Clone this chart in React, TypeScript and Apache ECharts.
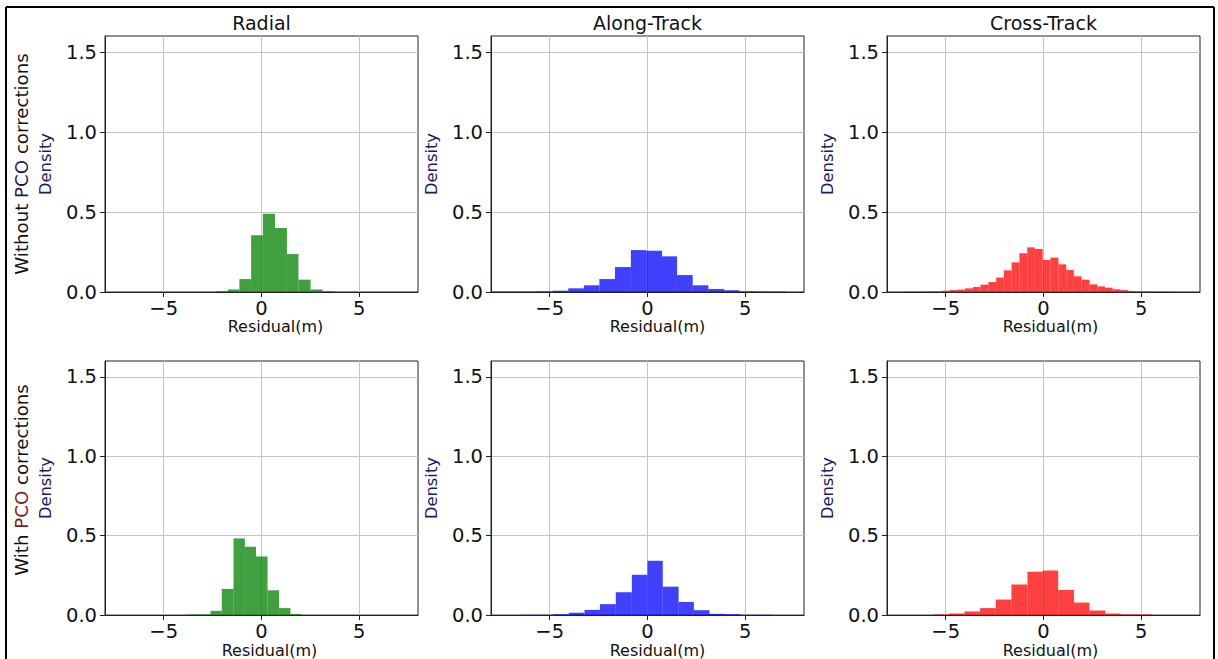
import React, { useEffect, useRef } from 'react';
import * as echarts from 'echarts';

// ---- labels / ticks ----
const columnTitles = ['Radial', 'Along-Track', 'Cross-Track'];
const rowLabelsPrefix = ['Without', 'With'];
const xTicks = [-5, 0, 5];
const yTicks = [0, 0.5, 1.0, 1.5];
const xRange = [-8, 8];
const yRange = [0, 1.6];
const xLabel = 'Residual(m)';
const yLabel = 'Density';

// ---- histogram data (bin edges and densities) ----
// Row 1: without PCO corrections
const radialWithoutEdges = [-2.32, -1.72, -1.13, -0.53, 0.07, 0.69, 1.3, 1.89, 2.51, 3.12, 3.73];
const radialWithoutDensity = [0.005, 0.016, 0.081, 0.354, 0.489, 0.4, 0.237, 0.077, 0.016, 0.005];

const alongWithoutEdges = [-8.05, -7.25, -6.45, -5.65, -4.85, -4.05, -3.25, -2.46, -1.66, -0.85, -0.07, 0.74, 1.51, 2.31, 3.11, 3.92, 4.7, 5.5, 6.3, 7.1];
const alongWithoutDensity = [0.002, 0.002, 0.002, 0.004, 0.008, 0.023, 0.042, 0.081, 0.156, 0.262, 0.258, 0.223, 0.106, 0.042, 0.019, 0.011, 0.004, 0.003, 0.002];

const crossWithoutEdges = [-7.18, -6.78, -6.38, -5.98, -5.58, -5.19, -4.8, -4.41, -4.01, -3.61, -3.22, -2.82, -2.42, -2.03, -1.63, -1.23, -0.83, -0.44, -0.04, 0.36, 0.76, 1.16, 1.55, 1.95, 2.35, 2.75, 3.14, 3.54, 3.94, 4.34, 4.74, 5.13, 5.53, 5.93, 6.33, 6.73];
const crossWithoutDensity = [0.002, 0.002, 0.002, 0.003, 0.004, 0.008, 0.012, 0.015, 0.023, 0.031, 0.046, 0.062, 0.09, 0.135, 0.185, 0.242, 0.279, 0.269, 0.2, 0.215, 0.173, 0.137, 0.098, 0.077, 0.048, 0.035, 0.027, 0.017, 0.012, 0.006, 0.004, 0.003, 0.002, 0.002, 0.002];

// Row 2: with PCO corrections
const radialWithEdges = [-3.76, -3.18, -2.61, -2.03, -1.43, -0.85, -0.28, 0.31, 0.9, 1.48, 2.06];
const radialWithDensity = [0.004, 0.004, 0.027, 0.165, 0.483, 0.431, 0.369, 0.156, 0.044, 0.006];

const alongWithEdges = [-6.43, -5.63, -4.83, -4.03, -3.22, -2.43, -1.62, -0.8, 0.0, 0.78, 1.59, 2.37, 3.17, 3.97, 4.76, 5.56, 6.36];
const alongWithDensity = [0.002, 0.002, 0.006, 0.015, 0.033, 0.069, 0.144, 0.254, 0.342, 0.179, 0.083, 0.031, 0.008, 0.006, 0.002, 0.002];

const crossWithEdges = [-5.63, -4.83, -4.04, -3.24, -2.44, -1.64, -0.82, -0.03, 0.75, 1.56, 2.35, 3.16, 3.94, 4.74, 5.55];
const crossWithDensity = [0.004, 0.01, 0.023, 0.044, 0.098, 0.192, 0.273, 0.281, 0.158, 0.079, 0.029, 0.01, 0.004, 0.004];

const panelColors = ['rgba(0,128,0,0.75)', 'rgba(0,0,255,0.75)', 'rgba(255,0,0,0.75)'];

const panels = [
  { edges: radialWithoutEdges, density: radialWithoutDensity, row: 0, col: 0 },
  { edges: alongWithoutEdges, density: alongWithoutDensity, row: 0, col: 1 },
  { edges: crossWithoutEdges, density: crossWithoutDensity, row: 0, col: 2 },
  { edges: radialWithEdges, density: radialWithDensity, row: 1, col: 0 },
  { edges: alongWithEdges, density: alongWithDensity, row: 1, col: 1 },
  { edges: crossWithEdges, density: crossWithDensity, row: 1, col: 2 },
];

// ---- layout ----
const FONT = 'DejaVu Sans';
const colLefts = [105, 491, 887];
const colWidth = 313;
const rowTops = [36, 361];
const rowHeight = 256;
// horizontal shift of the x-axis name (left padding) per panel
const xNameShift = [[28, 20, 14], [16, 20, 14]];

function buildOption(): echarts.EChartsOption {
  const grid: any[] = [];
  const xAxis: any[] = [];
  const yAxis: any[] = [];
  const series: any[] = [];

  panels.forEach((p, i) => {
    grid.push({
      left: colLefts[p.col],
      top: rowTops[p.row],
      width: colWidth,
      height: rowHeight,
      show: true,
      borderColor: '#222',
      borderWidth: 1,
      backgroundColor: 'transparent',
      containLabel: false,
    });
    xAxis.push({
      type: 'value',
      gridIndex: i,
      min: xRange[0],
      max: xRange[1],
      name: xLabel,
      nameLocation: 'middle',
      nameGap: 25,
      nameTextStyle: {
        fontFamily: FONT,
        fontSize: 16,
        color: '#111',
        padding: [0, 0, 0, xNameShift[p.row][p.col]],
      },
      axisLine: { show: true, onZero: false, lineStyle: { color: '#222', width: 1 } },
      axisTick: { show: true, length: 5, lineStyle: { color: '#222' }, customValues: xTicks },
      axisLabel: {
        show: true,
        margin: 6,
        fontFamily: FONT,
        fontSize: 19.5,
        color: '#111',
        customValues: xTicks,
        formatter: (v: number) => (v < 0 ? '\u2212' + Math.abs(v) : String(v)),
      },
      splitLine: { show: true, lineStyle: { color: '#c4c4c4', width: 1 } },
    });
    yAxis.push({
      type: 'value',
      gridIndex: i,
      min: yRange[0],
      max: yRange[1],
      name: yLabel,
      nameLocation: 'middle',
      nameRotate: 90,
      nameGap: 52,
      nameTextStyle: { fontFamily: FONT, fontSize: 16.3, color: '#1c1c5c' },
      axisLine: { show: true, onZero: false, lineStyle: { color: '#222', width: 1 } },
      axisTick: { show: true, length: 5, lineStyle: { color: '#222' }, customValues: yTicks },
      axisLabel: {
        show: true,
        margin: 8,
        fontFamily: FONT,
        fontSize: 19.5,
        color: '#111',
        customValues: yTicks,
        formatter: (v: number) => v.toFixed(1),
      },
      splitLine: { show: true, lineStyle: { color: '#c4c4c4', width: 1 } },
    });
    const data = p.density.map((d, k) => [p.edges[k], p.edges[k + 1], d]);
    const color = panelColors[p.col];
    series.push({
      type: 'custom',
      xAxisIndex: i,
      yAxisIndex: i,
      encode: { x: [0, 1], y: 2 },
      data,
      clip: true,
      renderItem: (params: any, api: any) => {
        const x0 = api.value(0);
        const x1 = api.value(1);
        const h = api.value(2);
        const pTop = api.coord([x0, h]);
        const pBot = api.coord([x1, 0]);
        return {
          type: 'rect',
          shape: { x: pTop[0], y: pTop[1], width: pBot[0] - pTop[0], height: pBot[1] - pTop[1] },
          style: { fill: color },
        };
      },
    });
  });

  const titleCenters = colLefts.map((l) => l + colWidth / 2);
  const graphic: any[] = [
    // page frame
    { type: 'line', shape: { x1: 6, y1: 7, x2: 1214, y2: 7 }, style: { stroke: '#000', lineWidth: 2 } },
    { type: 'line', shape: { x1: 6, y1: 7, x2: 6, y2: 659 }, style: { stroke: '#000', lineWidth: 2 } },
    { type: 'line', shape: { x1: 1214, y1: 7, x2: 1214, y2: 659 }, style: { stroke: '#000', lineWidth: 2 } },
    ...columnTitles.map((t, c) => ({
      type: 'text',
      x: titleCenters[c],
      y: 23,
      style: {
        text: t,
        fontFamily: FONT,
        fontSize: 19,
        fill: '#111',
        textAlign: 'center',
        textVerticalAlign: 'middle',
      },
    })),
    ...rowLabelsPrefix.map((pre, r) => ({
      type: 'text',
      x: 21,
      y: r === 0 ? 164 : 480,
      rotation: Math.PI / 2,
      style: {
        text: `{a|${pre} }{p|PCO}{a| corrections}`,
        rich: {
          a: { fontFamily: FONT, fontSize: 18.2, fill: '#111' },
          p: { fontFamily: FONT, fontSize: 18.2, fill: r === 0 ? '#1c1c4c' : '#7a2020' },
        },
        textAlign: 'center',
        textVerticalAlign: 'middle',
      },
    })),
  ];

  return {
    animation: false,
    backgroundColor: '#fff',
    grid,
    xAxis,
    yAxis,
    series,
    graphic,
  };
}

export default function App() {
  const ref = useRef<HTMLDivElement>(null);
  useEffect(() => {
    if (!ref.current) return;
    const chart = echarts.init(ref.current, null, { renderer: 'svg' });
    chart.setOption(buildOption());
    return () => chart.dispose();
  }, []);
  return (
    <div
      ref={ref}
      style={{ position: 'fixed', left: 0, top: 0, width: 1218, height: 659, background: '#fff' }}
    />
  );
}
